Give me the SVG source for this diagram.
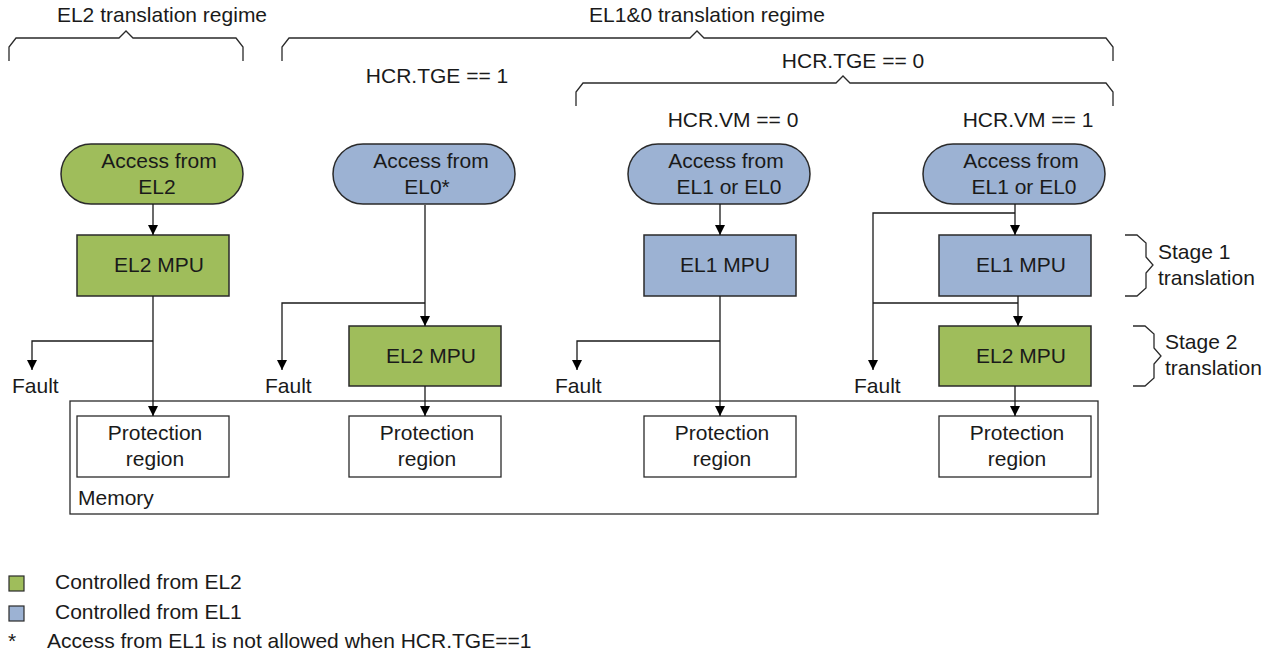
<svg xmlns="http://www.w3.org/2000/svg" width="1277" height="657" viewBox="0 0 1277 657">
<style>
text{font-family:"Liberation Sans",Arial,sans-serif;font-size:21px;fill:#1a1a1a}
.m{text-anchor:middle}
.green{fill:#9fbd5b;stroke:#2a2a2a;stroke-width:1.5}
.blue{fill:#9cb2d3;stroke:#2a2a2a;stroke-width:1.5}
.white{fill:#fff;stroke:#2a2a2a;stroke-width:1.3}
.brace{fill:none;stroke:#2a2a2a;stroke-width:1.3}
.conn path{fill:none;stroke:#1a1a1a;stroke-width:1.3}
</style>
<defs>
<marker id="arr" viewBox="0 0 10 10" refX="10" refY="5" markerWidth="10" markerHeight="10" markerUnits="userSpaceOnUse" orient="auto">
<path d="M0,0 L10,5 L0,10 z" fill="#000"/>
</marker>
</defs>
<rect width="1277" height="657" fill="#fff"/>

<g id="braces">
<path class="brace" d="M9,61 V47 L16,38 H119 L126,31 L133,38 H236 L243,47 V61"/>
<path class="brace" d="M282,61 V47 L289,38 H690 L697,31 L704,38 H1106 L1113,47 V61"/>
<path class="brace" d="M576,106 V92 L583,83 H836 L843,76 L850,83 H1106 L1113,92 V106"/>
<path class="brace" d="M1125,235 H1137 L1146,243 V257 L1153,265 L1146,273 V288 L1137,296 H1125"/>
<path class="brace" d="M1133,326 H1145 L1154,334 V348 L1161,356 L1154,364 V378 L1145,386 H1133"/>
</g>

<g id="labels">
<text class="m" x="162" y="22">EL2 translation regime</text>
<text class="m" x="707" y="22">EL1&amp;0 translation regime</text>
<text class="m" x="437" y="83">HCR.TGE == 1</text>
<text class="m" x="853" y="68">HCR.TGE == 0</text>
<text class="m" x="733" y="127">HCR.VM == 0</text>
<text class="m" x="1028" y="127">HCR.VM == 1</text>
<text x="1158" y="259">Stage 1</text>
<text x="1158" y="285">translation</text>
<text x="1165" y="349">Stage 2</text>
<text x="1165" y="375">translation</text>
<text x="12" y="393">Fault</text>
<text x="265" y="393">Fault</text>
<text x="555" y="393">Fault</text>
<text x="854" y="393">Fault</text>
</g>

<g id="memory">
<rect class="white" x="70" y="401" width="1028" height="113"/>
<text x="78" y="505">Memory</text>
</g>

<g id="pr1"><rect class="white" x="77" y="416" width="152" height="61"/><text class="m" x="155" y="440">Protection</text><text class="m" x="155" y="466">region</text></g>
<g id="pr2"><rect class="white" x="349" y="416" width="152" height="61"/><text class="m" x="427" y="440">Protection</text><text class="m" x="427" y="466">region</text></g>
<g id="pr3"><rect class="white" x="644" y="416" width="152" height="61"/><text class="m" x="722" y="440">Protection</text><text class="m" x="722" y="466">region</text></g>
<g id="pr4"><rect class="white" x="939" y="416" width="152" height="61"/><text class="m" x="1017" y="440">Protection</text><text class="m" x="1017" y="466">region</text></g>

<g id="acc1"><rect class="green" x="61" y="144" width="182" height="60" rx="30"/><text class="m" x="159" y="168">Access from</text><text class="m" x="157" y="194">EL2</text></g>
<g id="acc2"><rect class="blue" x="333" y="144" width="182" height="60" rx="30"/><text class="m" x="431" y="168">Access from</text><text class="m" x="427" y="194">EL0*</text></g>
<g id="acc3"><rect class="blue" x="628" y="144" width="182" height="60" rx="30"/><text class="m" x="726" y="168">Access from</text><text class="m" x="729" y="194">EL1 or EL0</text></g>
<g id="acc4"><rect class="blue" x="923" y="144" width="182" height="60" rx="30"/><text class="m" x="1021" y="168">Access from</text><text class="m" x="1024" y="194">EL1 or EL0</text></g>

<g id="mpu1"><rect class="green" x="77" y="235" width="152" height="61"/><text class="m" x="159" y="272">EL2 MPU</text></g>
<g id="mpu2"><rect class="green" x="349" y="326" width="152" height="60"/><text class="m" x="431" y="363">EL2 MPU</text></g>
<g id="mpu3"><rect class="blue" x="644" y="235" width="152" height="61"/><text class="m" x="725" y="272">EL1 MPU</text></g>
<g id="mpu4a"><rect class="blue" x="939" y="235" width="152" height="61"/><text class="m" x="1021" y="272">EL1 MPU</text></g>
<g id="mpu4b"><rect class="green" x="939" y="326" width="152" height="60"/><text class="m" x="1021" y="363">EL2 MPU</text></g>

<g id="connectors" class="conn">
<path d="M153,204 V235" marker-end="url(#arr)"/>
<path d="M153,296 V416" marker-end="url(#arr)"/>
<path d="M153,341 H32 V370" marker-end="url(#arr)"/>
<path d="M425,205 V326" marker-end="url(#arr)"/>
<path d="M425,303 H282 V370" marker-end="url(#arr)"/>
<path d="M425,386 V416" marker-end="url(#arr)"/>
<path d="M720,204 V235" marker-end="url(#arr)"/>
<path d="M720,296 V416" marker-end="url(#arr)"/>
<path d="M720,341 H577 V370" marker-end="url(#arr)"/>
<path d="M1015,204 V235" marker-end="url(#arr)"/>
<path d="M1015,213 H873 V370" marker-end="url(#arr)"/>
<path d="M1018,296 V326" marker-end="url(#arr)"/>
<path d="M1018,303 H873"/>
<path d="M1015,386 V416" marker-end="url(#arr)"/>
</g>

<g id="legend">
<rect class="green" x="9" y="576" width="15" height="15" style="stroke-width:1.2"/>
<text x="55" y="589">Controlled from EL2</text>
<rect class="blue" x="9" y="606" width="15" height="15" style="stroke-width:1.2"/>
<text x="55" y="619">Controlled from EL1</text>
<text x="8" y="648">*</text>
<text x="47" y="648">Access from EL1 is not allowed when HCR.TGE==1</text>
</g>
</svg>
